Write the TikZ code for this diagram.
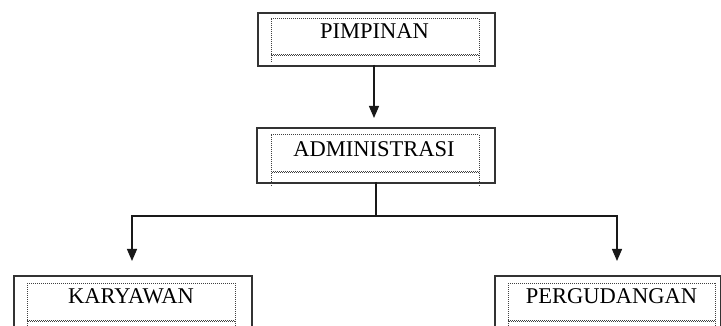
\documentclass[tikz,border=0pt]{standalone}
\usepackage{fontspec}
\setmainfont{Liberation Serif}
\usetikzlibrary{arrows.meta}
\begin{document}
\begin{tikzpicture}[x=1pt,y=-1pt,
  outerbox/.style={draw=black!80, line width=1.6pt, inner sep=0pt, anchor=north west},
  dotline/.style={draw=black!75, line width=1pt, dash pattern=on 1pt off 1pt},
  dotlineb/.style={draw=black!75, line width=1pt, dash pattern=on 1pt off 1pt, dash phase=1pt},
  lbl/.style={inner sep=0pt, anchor=base, font=\fontsize{22.5}{27}\selectfont},
  conn/.style={draw=black!90, line width=1.3pt},
  arr/.style={conn, -{Triangle[width=10pt,length=12pt]}}]
\useasboundingbox (0,0) rectangle (721,326);
\clip (0,0) rectangle (721,326);
% outer boxes
\node[outerbox, minimum width=237pt, minimum height=53pt] (pim) at (257,12) {};
\node[outerbox, minimum width=238pt, minimum height=55pt] (adm) at (256,127) {};
\node[outerbox, minimum width=238pt, minimum height=70pt] (kar) at (13,275) {};
\node[outerbox, minimum width=226pt, minimum height=70pt] (per) at (494,275) {};
% inner dotted frames
\foreach \l/\r/\t/\b/\e in {271/479/19/55/63, 271/479/135/172/187, 27/235/283/320/330, 508/715/283/320/330}{
  \draw[dotline] (\l,\t) -- (\r,\t);
  \draw[dotline] (\l,\t) -- (\l,\e);
  \draw[dotline] (\r,\t) -- (\r,\e);
  \draw[dotline] (\l,\b) -- (\r,\b);
  \draw[dotlineb] (\l,\b+1) -- (\r,\b+1);
}
% labels
\node[lbl] (pimT) at (374.5,39) {PIMPINAN};
\node[lbl] (admT) at (374,157) {ADMINISTRASI};
\node[lbl] (karT) at (131,303) {KARYAWAN};
\node[lbl] (perT) at (611.5,303) {PERGUDANGAN};
% connectors
\coordinate (pimB) at (374,65);
\coordinate (admTip) at (374,118);
\coordinate (admB) at (376,182);
\coordinate (junc) at (376,216);
\coordinate (karTip) at (132,261);
\coordinate (perTip) at (617,261);
\draw[arr] (pimB) -- (admTip);
\draw[conn] (admB) -- (junc);
\draw[arr] (junc) -| (karTip);
\draw[arr] (junc) -| (perTip);
\end{tikzpicture}
\end{document}
